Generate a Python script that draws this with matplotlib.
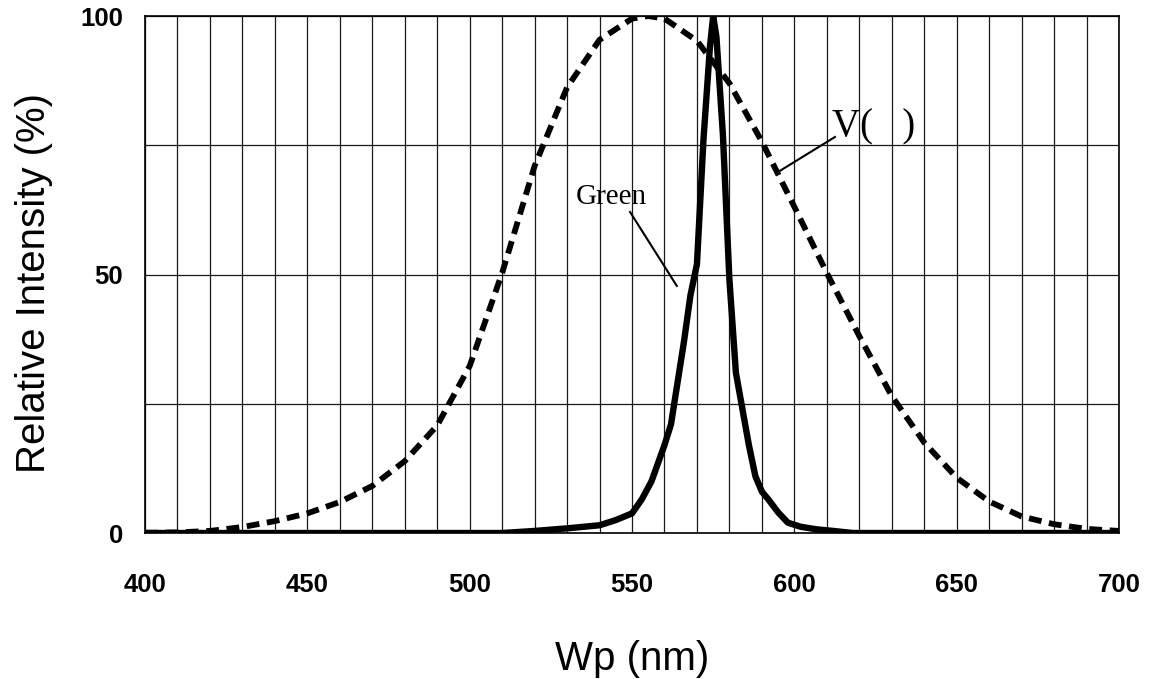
import matplotlib
matplotlib.use("Agg")
import matplotlib.pyplot as plt
import numpy as np

# eye sensitivity curve V(lambda)
v_nm = [400, 410, 420, 430, 440, 450, 460, 470, 480, 490, 500, 510, 520, 530,
        540, 550, 555, 560, 570, 580, 590, 600, 610, 620, 630, 640, 650, 660,
        670, 680, 690, 700]
v_pct = [0.04, 0.12, 0.4, 1.16, 2.3, 3.8, 6.0, 9.1, 13.9, 20.8, 32.3, 50.3,
         71.0, 86.2, 95.4, 99.5, 100.0, 99.5, 95.2, 87.0, 75.7, 63.1, 50.3,
         38.1, 26.5, 17.5, 10.7, 6.1, 3.2, 1.7, 0.8, 0.4]

# green LED spectrum
g_nm = [400, 510, 520, 530, 535, 540, 545, 550, 553, 556, 558, 560, 562, 564,
        566, 568, 570, 572, 574, 575, 576, 578, 580, 582, 584, 586, 588, 590,
        592, 595, 598, 602, 607, 612, 618, 700]
g_pct = [0, 0, 0.4, 0.9, 1.2, 1.5, 2.5, 3.8, 6.5, 10, 13.5, 17, 21, 29, 37,
         46, 52, 76, 94, 100, 96, 77, 49, 31, 24, 17, 11, 8, 6.5, 4, 2, 1.2,
         0.7, 0.4, 0, 0]

x_ticks = [400, 450, 500, 550, 600, 650, 700]
y_ticks = [0, 50, 100]

fig = plt.figure(figsize=(11.49, 6.79), dpi=100)
ax = fig.add_axes([0.1262, 0.215, 0.8477, 0.7614])

ax.plot(v_nm, v_pct, color="black", lw=4.2, linestyle=(0, (2.2, 1.3)),
        solid_capstyle="butt", zorder=3)
ax.plot(g_nm, g_pct, color="black", lw=4.6, solid_joinstyle="round", zorder=4)

ax.set_xlim(400, 700)
ax.set_ylim(0, 100)
ax.set_xticks(np.arange(400, 701, 10), minor=True)
ax.set_yticks([25, 75], minor=True)
ax.set_xticks(x_ticks)
ax.set_yticks(y_ticks)
ax.grid(True, which="both", color="#1a1a1a", lw=0.9)
ax.set_axisbelow(True)
for s in ax.spines.values():
    s.set_linewidth(1.2)

ax.tick_params(which="both", length=0)
ax.tick_params(axis="x", pad=29)
ax.tick_params(axis="y", pad=16)
for lab in ax.get_xticklabels() + ax.get_yticklabels():
    lab.set_fontfamily("Liberation Sans")
    lab.set_fontsize(18.5)
    lab.set_fontweight("bold")

ax.set_xlabel("Wp (nm)", fontfamily="Liberation Sans", fontsize=29)
ax.xaxis.set_label_coords(0.5, -0.207)
ax.set_ylabel("Relative Intensity (%)", fontfamily="Liberation Sans",
              fontsize=29)
ax.yaxis.set_label_coords(-0.094, 0.484)

# annotations
ax.text(543.5, 65.0, "Green", fontfamily="Liberation Serif", fontsize=21,
        ha="center", va="center")
ax.plot([549.4, 563.8], [62.1, 47.8], color="black", lw=1.5, zorder=5)
ax.text(611.5, 78.5, "V(   )", fontfamily="Liberation Serif", fontsize=28,
        ha="left", va="center")
ax.plot([594.9, 612.5], [69.8, 76.6], color="black", lw=1.5, zorder=5)

fig.savefig("out.png", dpi=100)
